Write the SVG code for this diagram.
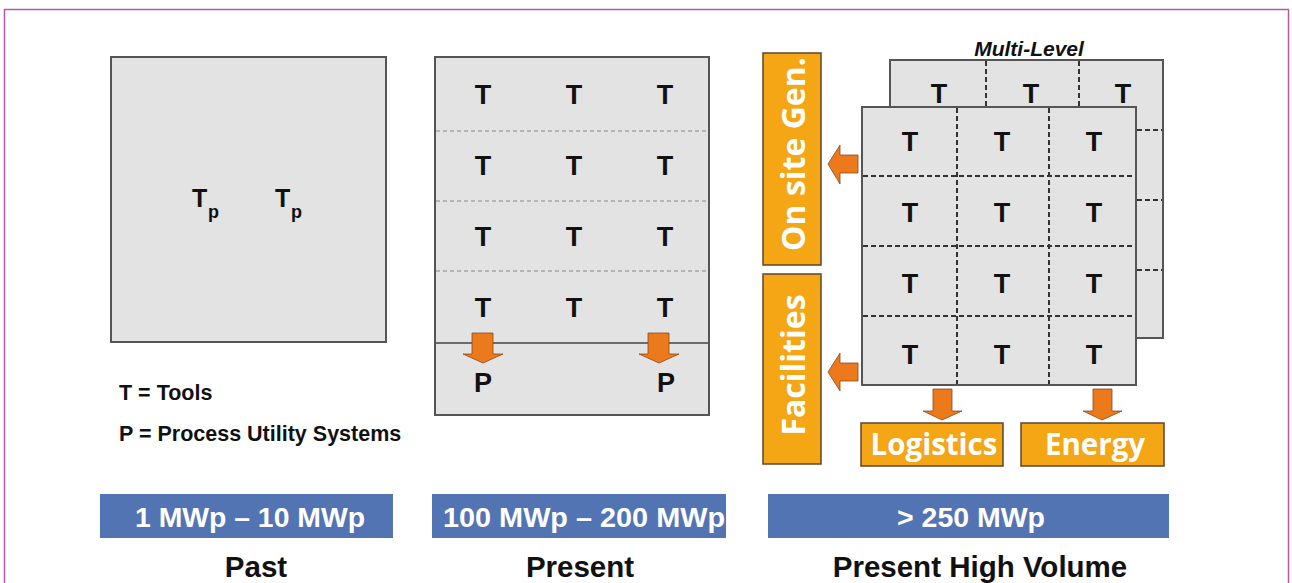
<svg xmlns="http://www.w3.org/2000/svg" width="1292" height="583" viewBox="0 0 1292 583">
<style>
.box{fill:#e3e3e3;stroke:#555;stroke-width:2}
.dl{stroke:#888;stroke-width:1;stroke-dasharray:4 3;fill:none}
.dd{stroke:#333;stroke-width:2;stroke-dasharray:5 3;fill:none}
.t{font-family:"Liberation Sans",Arial,sans-serif;font-weight:bold;font-size:27px;fill:#111;text-anchor:middle}
.tp{font-family:"Liberation Sans",Arial,sans-serif;font-weight:bold;font-size:25px;fill:#111}
.sub{font-family:"Liberation Sans",Arial,sans-serif;font-weight:bold;font-size:18px;fill:#111}
.leg{font-family:"Liberation Sans",Arial,sans-serif;font-weight:bold;font-size:21.5px;fill:#111}
.bar{fill:#5374b3}
.bt{font-family:"Liberation Sans",Arial,sans-serif;font-weight:bold;font-size:27px;fill:#fff;text-anchor:middle}
.cap{font-family:"Liberation Sans",Arial,sans-serif;font-weight:bold;font-size:29.5px;fill:#111;text-anchor:middle}
.ob{fill:#f4a614;stroke:#5a4630;stroke-width:1.5}
.ot{font-family:"Open Sans","DejaVu Sans",sans-serif;font-weight:bold;font-size:29.5px;fill:#fff;text-anchor:middle}
.ov{font-family:"Open Sans","DejaVu Sans",sans-serif;font-weight:bold;font-size:32px;fill:#fff;text-anchor:middle}
.arr{fill:#ec7a1c;stroke:#8a4a1a;stroke-width:0.8}
</style>
<rect x="4.5" y="9.5" width="1284" height="620" fill="#fff" stroke="#b65aa8" stroke-width="1.5"/>

<g id="past">
<rect class="box" x="111" y="57" width="275" height="285"/>
<text class="tp" x="192" y="207">T</text><text class="sub" x="208" y="218">p</text>
<text class="tp" x="275" y="207">T</text><text class="sub" x="291" y="218">p</text>
</g>
<g id="legend">
<text class="leg" x="119" y="400">T = Tools</text>
<text class="leg" x="119" y="441">P = Process Utility Systems</text>
</g>

<g id="present">
<rect class="box" x="435" y="57" width="274" height="358"/>
<path class="dl" d="M436 131H708M436 201H708M436 271H708"/>
<path d="M436 343H708" stroke="#444" stroke-width="1.5"/>
<g class="t">
<text x="483" y="104">T</text><text x="574" y="104">T</text><text x="665" y="104">T</text>
<text x="483" y="175">T</text><text x="574" y="175">T</text><text x="665" y="175">T</text>
<text x="483" y="246">T</text><text x="574" y="246">T</text><text x="665" y="246">T</text>
<text x="483" y="317">T</text><text x="574" y="317">T</text><text x="665" y="317">T</text>
<text x="483" y="392">P</text><text x="666" y="392">P</text>
</g>
</g>

<g id="hv-back">
<rect class="box" x="890" y="60" width="273" height="278"/>
<path class="dd" d="M986 61V107M1079 61V107M1137 130H1162M1137 200H1162M1137 270H1162"/>
<g class="t"><text x="939" y="103">T</text><text x="1031" y="103">T</text><text x="1123" y="103">T</text></g>
</g>
<g id="hv-front">
<rect class="box" x="862" y="107" width="274" height="278"/>
<path class="dd" d="M957 108V384M1049 108V384M863 176H1135M863 246H1135M863 316H1135"/>
<g class="t">
<text x="910" y="151">T</text><text x="1002" y="151">T</text><text x="1094" y="151">T</text>
<text x="910" y="222">T</text><text x="1002" y="222">T</text><text x="1094" y="222">T</text>
<text x="910" y="293">T</text><text x="1002" y="293">T</text><text x="1094" y="293">T</text>
<text x="910" y="364">T</text><text x="1002" y="364">T</text><text x="1094" y="364">T</text>
</g>
</g>
<text x="1029" y="56" text-anchor="middle" style="font-family:'Liberation Sans',Arial,sans-serif;font-weight:bold;font-style:italic;font-size:21px;fill:#111">Multi-Level</text>

<g id="onsite">
<rect class="ob" x="763" y="53" width="58" height="212"/>
<text class="ov" transform="translate(805 154) rotate(-90)">On site Gen.</text>
</g>
<g id="facilities">
<rect class="ob" x="763" y="274" width="58" height="190"/>
<text class="ov" transform="translate(805 365) rotate(-90)">Facilities</text>
</g>
<g id="logistics">
<rect class="ob" x="861" y="423" width="142" height="43"/>
<text class="ot" x="934" y="455">Logistics</text>
</g>
<g id="energy">
<rect class="ob" x="1021" y="423" width="143" height="43"/>
<text class="ot" x="1095" y="455">Energy</text>
</g>

<g id="connectors">
<path class="arr" d="M472 333H493V354H503L483 363L463 354H472Z"/>
<path class="arr" d="M648 333H669V354H679L659 363L639 354H648Z"/>
<path class="arr" d="M858 155V173H840V184L828 164L840 145V155Z"/>
<path class="arr" d="M858 363V381H840V391L828 372L840 353V363Z"/>
<path class="arr" d="M933 389H952V411H962L942 420L923 411H933Z"/>
<path class="arr" d="M1093 389H1112V411H1122L1102 420L1083 411H1093Z"/>
</g>

<g id="bar1"><rect class="bar" x="100" y="494" width="293" height="44"/><text class="bt" x="250" y="527" textLength="230" lengthAdjust="spacingAndGlyphs">1 MWp – 10 MWp</text></g>
<g id="bar2"><rect class="bar" x="432" y="494" width="294" height="44"/><text class="bt" x="584" y="527" textLength="282" lengthAdjust="spacingAndGlyphs">100 MWp – 200 MWp</text></g>
<g id="bar3"><rect class="bar" x="768" y="494" width="401" height="44"/><text class="bt" x="971" y="527" textLength="148" lengthAdjust="spacingAndGlyphs">&gt; 250 MWp</text></g>
<text class="cap" x="256" y="577">Past</text>
<text class="cap" x="580" y="577">Present</text>
<text class="cap" x="980" y="577">Present High Volume</text>
</svg>
